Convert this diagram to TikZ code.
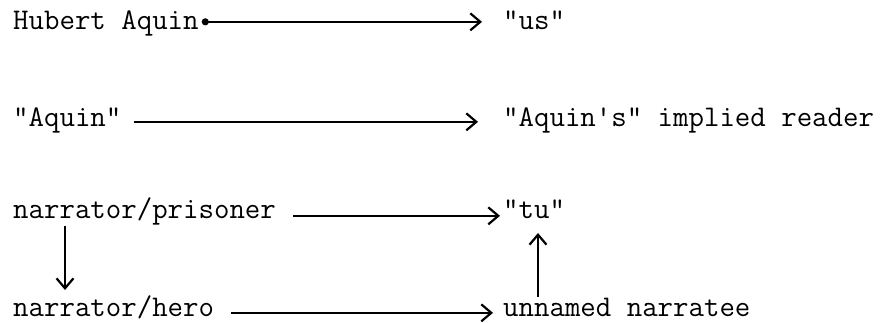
\documentclass[tikz,border=0pt]{standalone}
\usetikzlibrary{arrows.meta}
\begin{document}
\begin{tikzpicture}[x=1pt,y=1pt,
  lbl/.style={anchor=base west, inner sep=0pt, font=\ttfamily\fontsize{30}{36}\selectfont},
  tipend/.tip={Straight Barb[length=10pt,width=17pt,line width=2.2pt]},
  arr/.style={line width=2.3pt, -tipend},
  dotarr/.style={line width=2.3pt, {Circle[length=7pt]}-tipend}]
\useasboundingbox (0,0) rectangle (888,323);

% left column
\node[lbl] (hub)  at (13,293) {Hubert Aquin};
\node[lbl] (aq)   at (13,196) {\textquotedbl Aquin\textquotedbl};
\node[lbl] (pri)  at (13,104) {narrator/prisoner};
\node[lbl] (hero) at (13,6)   {narrator/hero};

% right column
\node[lbl] (us)  at (503,293) {\textquotedbl us\textquotedbl};
\node[lbl] (aqr) at (503,196) {\textquotedbl Aquin\textquotesingle s\textquotedbl{} implied reader};
\node[lbl] (tu)  at (503,104) {\textquotedbl tu\textquotedbl};
\node[lbl] (nte) at (503,6)   {unnamed narratee};

% horizontal links
\draw[dotarr, shorten <=3pt,  shorten >=21pt] ([yshift=6pt]hub.mid east)  -- ([yshift=6pt]us.mid west);
\draw[arr,    shorten <=12pt, shorten >=25pt] ([yshift=3pt]aq.mid east)   -- ([yshift=3pt]aqr.mid west);
\draw[arr,    shorten <=17pt, shorten >=3pt]  ([yshift=1pt]pri.mid east)  -- ([yshift=1pt]tu.mid west);
\draw[arr,    shorten <=17pt, shorten >=10pt] ([yshift=2pt]hero.mid east) -- ([yshift=2pt]nte.mid west);

% vertical links
\draw[arr] ([xshift=52pt,yshift=-7pt]pri.base west) -- ([xshift=52pt,yshift=27pt]hero.base west);
\draw[arr] ([xshift=35pt,yshift=20pt]nte.base west) -- ([xshift=35pt,yshift=-14pt]tu.base west);
\end{tikzpicture}
\end{document}
